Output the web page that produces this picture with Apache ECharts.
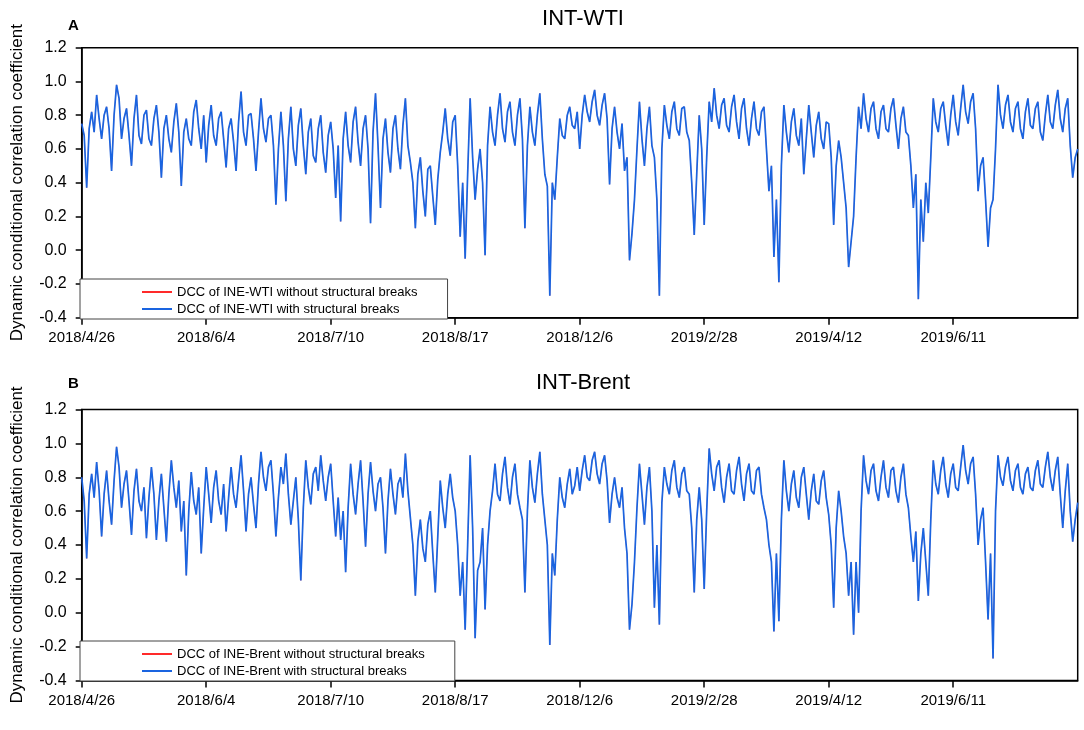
<!DOCTYPE html>
<html>
<head>
<meta charset="utf-8">
<script src="https://cdn.jsdelivr.net/npm/echarts@6/dist/echarts.min.js"></script>
<style>
  html, body { margin: 0; padding: 0; background: #fff; }
  #chart { width: 1084px; height: 730px; }
</style>
</head>
<body>
<div id="chart"></div>
<script>
// tick labels, one every 50 observations
const tickLabels = ['2018/4/26', '2018/6/4', '2018/7/10', '2018/8/17', '2018/12/6', '2019/2/28', '2019/4/12', '2019/6/11'];
const tickStep = 50;

// DCC of INE-WTI
const dccWti = [
  0.75, 0.68, 0.37, 0.72, 0.82, 0.70, 0.92, 0.78, 0.66, 0.80, 0.85, 0.72, 0.47, 0.80, 0.98, 0.90, 0.66, 0.78, 0.84, 0.68,
  0.50, 0.78, 0.92, 0.68, 0.63, 0.80, 0.83, 0.66, 0.62, 0.78, 0.86, 0.70, 0.43, 0.72, 0.80, 0.66, 0.58, 0.76, 0.87, 0.70,
  0.38, 0.70, 0.78, 0.66, 0.62, 0.82, 0.89, 0.72, 0.60, 0.80, 0.52, 0.74, 0.86, 0.68, 0.62, 0.78, 0.82, 0.66, 0.49, 0.72,
  0.78, 0.64, 0.47, 0.76, 0.94, 0.70, 0.62, 0.80, 0.81, 0.66, 0.47, 0.70, 0.90, 0.72, 0.64, 0.78, 0.80, 0.62, 0.27, 0.60,
  0.82, 0.62, 0.29, 0.66, 0.85, 0.60, 0.50, 0.74, 0.84, 0.62, 0.45, 0.70, 0.78, 0.56, 0.52, 0.72, 0.80, 0.58, 0.46, 0.68,
  0.76, 0.60, 0.31, 0.62, 0.17, 0.66, 0.82, 0.62, 0.52, 0.76, 0.85, 0.64, 0.50, 0.72, 0.80, 0.60, 0.16, 0.70, 0.93, 0.62,
  0.25, 0.66, 0.78, 0.58, 0.46, 0.72, 0.80, 0.60, 0.48, 0.74, 0.90, 0.62, 0.52, 0.40, 0.13, 0.45, 0.55, 0.35, 0.20, 0.48,
  0.50, 0.32, 0.15, 0.42, 0.58, 0.70, 0.84, 0.66, 0.56, 0.76, 0.80, 0.50, 0.08, 0.40, -0.05, 0.45, 0.90, 0.55, 0.30, 0.48,
  0.60, 0.40, -0.03, 0.62, 0.85, 0.70, 0.62, 0.80, 0.93, 0.72, 0.64, 0.82, 0.88, 0.70, 0.62, 0.80, 0.90, 0.66, 0.13, 0.62,
  0.85, 0.70, 0.62, 0.80, 0.93, 0.66, 0.45, 0.38, -0.27, 0.40, 0.30, 0.55, 0.78, 0.68, 0.66, 0.80, 0.85, 0.74, 0.72, 0.82,
  0.60, 0.80, 0.92, 0.82, 0.76, 0.88, 0.95, 0.80, 0.74, 0.86, 0.93, 0.78, 0.39, 0.72, 0.85, 0.70, 0.60, 0.75, 0.47, 0.55,
  -0.06, 0.10, 0.30, 0.60, 0.88, 0.66, 0.50, 0.72, 0.85, 0.62, 0.55, 0.30, -0.27, 0.60, 0.86, 0.74, 0.66, 0.82, 0.88, 0.72,
  0.68, 0.84, 0.85, 0.70, 0.65, 0.40, 0.09, 0.45, 0.80, 0.60, 0.15, 0.55, 0.88, 0.76, 0.96, 0.80, 0.72, 0.86, 0.90, 0.74,
  0.70, 0.85, 0.92, 0.76, 0.66, 0.84, 0.90, 0.72, 0.62, 0.78, 0.88, 0.72, 0.68, 0.82, 0.85, 0.60, 0.35, 0.50, -0.04, 0.30,
  -0.19, 0.50, 0.86, 0.70, 0.58, 0.76, 0.84, 0.68, 0.62, 0.78, 0.45, 0.66, 0.86, 0.70, 0.55, 0.74, 0.82, 0.66, 0.60, 0.76,
  0.75, 0.55, 0.15, 0.50, 0.65, 0.55, 0.40, 0.25, -0.10, 0.05, 0.20, 0.55, 0.85, 0.72, 0.93, 0.78, 0.70, 0.84, 0.88, 0.72,
  0.66, 0.82, 0.86, 0.72, 0.70, 0.84, 0.90, 0.74, 0.60, 0.78, 0.85, 0.70, 0.68, 0.50, 0.25, 0.45, -0.29, 0.30, 0.05, 0.40,
  0.22, 0.55, 0.90, 0.76, 0.70, 0.84, 0.88, 0.74, 0.62, 0.80, 0.92, 0.76, 0.68, 0.84, 0.98, 0.82, 0.75, 0.88, 0.93, 0.72,
  0.35, 0.50, 0.55, 0.30, 0.02, 0.25, 0.30, 0.60, 0.98, 0.80, 0.72, 0.86, 0.92, 0.76, 0.70, 0.84, 0.88, 0.72, 0.66, 0.82,
  0.90, 0.74, 0.72, 0.84, 0.88, 0.70, 0.65, 0.80, 0.92, 0.76, 0.72, 0.86, 0.95, 0.78, 0.70, 0.84, 0.90, 0.62, 0.43, 0.55,
  0.60
];

// DCC of INE-Brent
const dccBrent = [
  0.80, 0.66, 0.32, 0.70, 0.82, 0.68, 0.89, 0.72, 0.45, 0.70, 0.84, 0.66, 0.52, 0.78, 0.98, 0.86, 0.62, 0.76, 0.84, 0.66,
  0.46, 0.72, 0.85, 0.66, 0.60, 0.74, 0.44, 0.68, 0.86, 0.70, 0.43, 0.66, 0.82, 0.62, 0.42, 0.70, 0.90, 0.74, 0.62, 0.78,
  0.48, 0.66, 0.22, 0.60, 0.83, 0.66, 0.58, 0.74, 0.35, 0.62, 0.86, 0.70, 0.53, 0.74, 0.84, 0.66, 0.58, 0.76, 0.48, 0.68,
  0.86, 0.70, 0.62, 0.78, 0.93, 0.72, 0.48, 0.70, 0.80, 0.64, 0.50, 0.76, 0.95, 0.80, 0.72, 0.86, 0.90, 0.70, 0.45, 0.68,
  0.86, 0.76, 0.94, 0.70, 0.52, 0.66, 0.80, 0.55, 0.19, 0.62, 0.90, 0.74, 0.64, 0.82, 0.86, 0.72, 0.93, 0.78, 0.66, 0.80,
  0.88, 0.66, 0.45, 0.68, 0.43, 0.60, 0.24, 0.62, 0.88, 0.70, 0.58, 0.76, 0.90, 0.66, 0.39, 0.70, 0.89, 0.72, 0.60, 0.76,
  0.80, 0.62, 0.35, 0.66, 0.85, 0.70, 0.58, 0.76, 0.80, 0.68, 0.94, 0.72, 0.56, 0.40, 0.10, 0.42, 0.55, 0.38, 0.30, 0.52,
  0.60, 0.35, 0.12, 0.45, 0.78, 0.62, 0.50, 0.70, 0.82, 0.68, 0.60, 0.40, 0.10, 0.30, -0.10, 0.40, 0.93, 0.50, -0.15, 0.25,
  0.30, 0.50, 0.02, 0.40, 0.60, 0.72, 0.88, 0.70, 0.66, 0.82, 0.92, 0.74, 0.64, 0.80, 0.88, 0.70, 0.62, 0.55, 0.12, 0.60,
  0.90, 0.74, 0.65, 0.82, 0.95, 0.70, 0.55, 0.40, -0.19, 0.35, 0.22, 0.55, 0.80, 0.68, 0.62, 0.76, 0.85, 0.70, 0.75, 0.86,
  0.72, 0.84, 0.93, 0.80, 0.78, 0.90, 0.95, 0.82, 0.76, 0.88, 0.93, 0.78, 0.53, 0.70, 0.80, 0.68, 0.62, 0.74, 0.50, 0.35,
  -0.10, 0.05, 0.30, 0.62, 0.88, 0.70, 0.52, 0.74, 0.86, 0.60, 0.03, 0.40, -0.07, 0.65, 0.86, 0.76, 0.70, 0.84, 0.90, 0.74,
  0.68, 0.82, 0.86, 0.72, 0.70, 0.50, 0.12, 0.55, 0.74, 0.55, 0.14, 0.60, 0.97, 0.82, 0.72, 0.86, 0.90, 0.74, 0.65, 0.80,
  0.88, 0.72, 0.70, 0.84, 0.92, 0.76, 0.66, 0.82, 0.88, 0.72, 0.70, 0.84, 0.86, 0.70, 0.62, 0.55, 0.40, 0.30, -0.11, 0.35,
  -0.05, 0.55, 0.90, 0.72, 0.60, 0.76, 0.84, 0.68, 0.62, 0.80, 0.86, 0.70, 0.55, 0.72, 0.82, 0.66, 0.64, 0.78, 0.84, 0.68,
  0.58, 0.40, 0.03, 0.50, 0.72, 0.60, 0.45, 0.35, 0.10, 0.30, -0.13, 0.30, 0.00, 0.60, 0.93, 0.78, 0.70, 0.84, 0.88, 0.72,
  0.66, 0.80, 0.90, 0.74, 0.68, 0.84, 0.86, 0.72, 0.65, 0.80, 0.88, 0.70, 0.62, 0.45, 0.30, 0.48, 0.07, 0.35, 0.50, 0.30,
  0.10, 0.55, 0.90, 0.76, 0.70, 0.84, 0.92, 0.76, 0.68, 0.82, 0.88, 0.74, 0.72, 0.86, 0.99, 0.84, 0.76, 0.88, 0.92, 0.70,
  0.40, 0.55, 0.62, 0.30, -0.04, 0.35, -0.27, 0.60, 0.93, 0.80, 0.75, 0.86, 0.92, 0.78, 0.72, 0.84, 0.88, 0.74, 0.70, 0.82,
  0.86, 0.74, 0.72, 0.84, 0.90, 0.76, 0.74, 0.86, 0.95, 0.80, 0.72, 0.84, 0.92, 0.70, 0.50, 0.72, 0.88, 0.60, 0.42, 0.55,
  0.65
];

const FONT = 'Liberation Sans, Arial, sans-serif';
const BLUE = '#1a64e0';
const RED = '#ff2a2a';

const chart = echarts.init(document.getElementById('chart'));

function showTick(idx) {
  return idx % tickStep === 0 && idx / tickStep < tickLabels.length;
}

function xAxisFor(gridIndex, n) {
  return {
    type: 'category',
    gridIndex: gridIndex,
    boundaryGap: false,
    data: Array.from({ length: n }, (_, i) => i),
    axisLine: { onZero: false, lineStyle: { color: '#000', width: 1.5 } },
    axisTick: { interval: showTick, length: 7, lineStyle: { color: '#000', width: 1.5 } },
    axisLabel: {
      interval: showTick,
      formatter: (v, idx) => tickLabels[idx / tickStep] || '',
      color: '#000', fontSize: 15, fontFamily: FONT, margin: 13
    },
    splitLine: { show: false }
  };
}

function yAxisFor(gridIndex) {
  return {
    type: 'value',
    gridIndex: gridIndex,
    min: -0.4, max: 1.2, interval: 0.2,
    name: 'Dynamic conditional correlation coefficient',
    nameLocation: 'middle',
    nameGap: 56,
    nameTextStyle: { color: '#000', fontSize: 17, fontFamily: FONT },
    axisLine: { show: true, onZero: false, lineStyle: { color: '#000', width: 1.5 } },
    axisTick: { show: true, length: 6, lineStyle: { color: '#000', width: 1.5 } },
    axisLabel: {
      formatter: v => v.toFixed(1),
      color: '#000', fontSize: 16, fontFamily: FONT, margin: 15
    },
    splitLine: { show: false }
  };
}

function lineSeries(name, data, color, width, idx, z) {
  return {
    name: name, type: 'line', data: data,
    xAxisIndex: idx, yAxisIndex: idx,
    showSymbol: false, symbol: 'none',
    lineStyle: { color: color, width: width },
    itemStyle: { color: color },
    animation: false, z: z
  };
}

function legendFor(names, top) {
  return {
    orient: 'vertical',
    left: 80, top: top,
    data: names.map(n => ({ name: n, icon: 'rect' })),
    itemWidth: 30, itemHeight: 2, itemGap: 3,
    padding: [6, 30, 3, 62],
    backgroundColor: '#fff',
    borderColor: '#444', borderWidth: 1,
    textStyle: { color: '#000', fontSize: 13, fontFamily: FONT, lineHeight: 14 },
    selectedMode: false
  };
}

const wtiNames = ['DCC of INE-WTI without structural breaks', 'DCC of INE-WTI with structural breaks'];
const brentNames = ['DCC of INE-Brent without structural breaks', 'DCC of INE-Brent with structural breaks'];

chart.setOption({
  backgroundColor: '#fff',
  animation: false,
  title: [
    { text: 'INT-WTI', left: 578, top: 3, textAlign: 'center',
      textStyle: { fontSize: 22, fontWeight: 'normal', color: '#000', fontFamily: FONT } },
    { text: 'A', left: 63, top: 13,
      textStyle: { fontSize: 15, fontWeight: 'bold', color: '#000', fontFamily: FONT } },
    { text: 'INT-Brent', left: 578, top: 367, textAlign: 'center',
      textStyle: { fontSize: 22, fontWeight: 'normal', color: '#000', fontFamily: FONT } },
    { text: 'B', left: 63, top: 371,
      textStyle: { fontSize: 15, fontWeight: 'bold', color: '#000', fontFamily: FONT } }
  ],
  grid: [
    { left: 81.7, right: 6.3, top: 47.7, height: 270, show: true, borderColor: '#000', borderWidth: 1.5 },
    { left: 81.7, right: 6.3, top: 409.5, height: 271, show: true, borderColor: '#000', borderWidth: 1.5 }
  ],
  legend: [legendFor(wtiNames, 279), legendFor(brentNames, 641)],
  xAxis: [xAxisFor(0, dccWti.length), xAxisFor(1, dccBrent.length)],
  yAxis: [yAxisFor(0), yAxisFor(1)],
  series: [
    lineSeries(wtiNames[0], dccWti, RED, 0.5, 0, 2),
    lineSeries(wtiNames[1], dccWti, BLUE, 1.7, 0, 3),
    lineSeries(brentNames[0], dccBrent, RED, 0.5, 1, 2),
    lineSeries(brentNames[1], dccBrent, BLUE, 1.7, 1, 3)
  ]
});
</script>
</body>
</html>
